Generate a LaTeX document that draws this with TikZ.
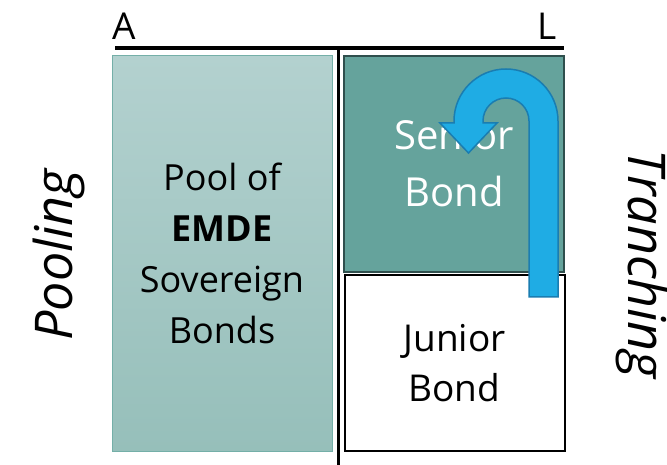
\documentclass[tikz,border=0pt]{standalone}
\usepackage{fontspec}
\setmainfont{Open Sans}
\usepackage{tikz}
\usetikzlibrary{arrows}

\definecolor{pooltop}{HTML}{B3D1CF}
\definecolor{poolbot}{HTML}{96BFBA}
\definecolor{poolline}{HTML}{74AFA8}
\definecolor{seniorfill}{HTML}{65A39C}
\definecolor{seniorline}{HTML}{2F4F4D}
\definecolor{arrowfill}{HTML}{1FACE4}
\definecolor{arrowline}{HTML}{1A7DB1}

\begin{document}
\begin{tikzpicture}[x=1pt,y=-1pt,
  tranche/.style={minimum width=220pt,align=center,inner sep=0pt},
  side/.style={font=\fontsize{52}{60}\selectfont\itshape,inner sep=0pt},
  corner/.style={font=\fontsize{37}{40}\selectfont,inner sep=0pt}]

\useasboundingbox (0,0) rectangle (667,465);

\node[tranche,draw=poolline,line width=1pt,top color=pooltop,bottom color=poolbot,
      minimum height=395pt,font=\fontsize{36}{51}\selectfont] (pool) at (222,253.5)
      {Pool of\\\textbf{EMDE}\\Sovereign\\Bonds};
\node[tranche,draw=seniorline,fill=seniorfill,line width=1.6pt,text=white,
      minimum height=216pt,font=\fontsize{40}{57}\selectfont] (senior) at (454,164)
      {Senior\\Bond};
\node[tranche,draw=black,fill=white,line width=2pt,
      minimum height=176pt,font=\fontsize{37}{50}\selectfont] (junior) at (454.5,363)
      {Junior\\Bond};

\coordinate (left)   at (115,48);
\coordinate (right)  at (564,48);
\coordinate (middle) at (338,48);
\coordinate (bottom) at (338,465);
\draw[line width=3.5pt] (left) -- (right);
\draw[line width=3pt] (middle) -- (bottom);

\node[corner,anchor=base]      (assets)      at (124,40) {A};
\node[corner,anchor=base west] (liabilities) at (537,40) {L};

\node[side,rotate=90,anchor=base]  (pooling)   at (72,255)  {Pooling};
\node[side,rotate=-90,anchor=base] (tranching) at (628,264) {Tranching};

% u-turn arrow from junior up into senior
\filldraw[fill=arrowfill,draw=arrowline,line width=1.5pt,line join=miter]
  (558,297) -- (558,121) arc[start angle=0,end angle=180,radius=52pt]
  -- (454,123) -- (440,123) -- (468.5,153) -- (497,123) -- (483,123) -- (483,121)
  arc[start angle=180,end angle=0,radius=23pt] -- (529,297) -- cycle;

\end{tikzpicture}
\end{document}
